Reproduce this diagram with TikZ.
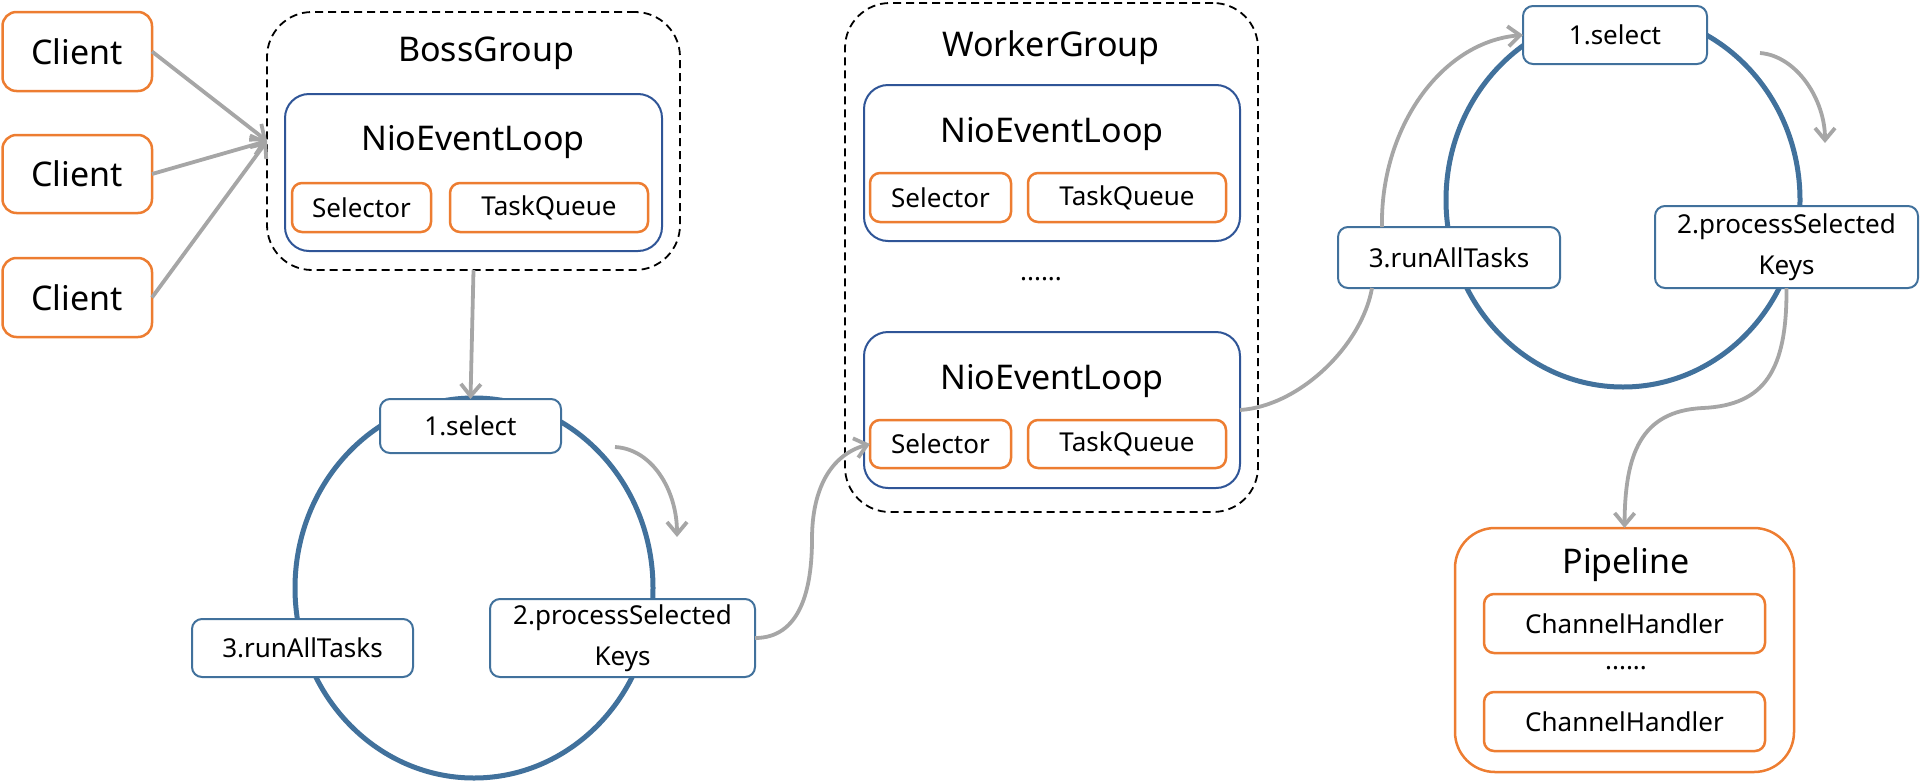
\documentclass[tikz,border=0pt]{standalone}
\usepackage{fontspec}
\setmainfont{Noto Sans}
\usetikzlibrary{arrows.meta}
\definecolor{orangec}{RGB}{237,125,49}
\definecolor{nelblue}{RGB}{47,85,151}
\definecolor{stepblue}{RGB}{65,113,156}
\definecolor{ringblue}{RGB}{65,113,156}
\definecolor{arrgray}{RGB}{166,166,166}
\newcommand{\bx}[7]{\node[#6, minimum width={#4-#2}, minimum height={#5-#3}, inner sep=0pt, outer sep=0pt] (#1) at ({(#2+#4)/2},{(#3+#5)/2}) {#7};}
\tikzset{
  bigtxt/.style={font=\fontsize{34}{40}\selectfont},
  smalltxt/.style={font=\fontsize{26}{41}\selectfont},
  clientbox/.style={draw=orangec, line width=2.5pt, rounded corners=14pt, fill=white, bigtxt},
  orbox/.style={draw=orangec, line width=2.5pt, rounded corners=10pt, fill=white, smalltxt},
  nelbox/.style={draw=nelblue, line width=2pt, rounded corners=24pt, fill=white},
  groupbox/.style={draw=black, line width=1.8pt, dash pattern=on 8pt off 5pt, rounded corners=45pt},
  pipebox/.style={draw=orangec, line width=2.5pt, rounded corners=40pt},
  stepbox/.style={draw=stepblue, line width=2pt, rounded corners=10pt, fill=white, smalltxt, align=center},
  ring/.style={draw=ringblue, line width=5pt},
  garr/.style={draw=arrgray, line width=3.8pt, -{Straight Barb[length=12pt,width=20pt,line width=3.8pt]}},
  gline/.style={draw=arrgray, line width=3.8pt},
  lbl/.style={inner sep=0pt}
}
\begin{document}
\begin{tikzpicture}[x=1pt,y=-1pt]
\useasboundingbox (0,0) rectangle (1921,782);
% clients
\bx{c1}{2.5}{12}{152}{91}{clientbox}{Client}
\bx{c2}{2.5}{135}{152}{213}{clientbox}{Client}
\bx{c3}{2.5}{258}{152}{337}{clientbox}{Client}
% boss group
\bx{boss}{267}{12}{680}{270}{groupbox}{}
\node[lbl,bigtxt] (bossT) at (486,53) {BossGroup};
\bx{bnel}{285}{94}{662}{251}{nelbox}{}
\node[lbl,bigtxt] (bnelT) at (473,142) {NioEventLoop};
\bx{bsel}{292}{183}{431}{232}{orbox}{Selector}
\bx{btq}{450}{183}{648}{232}{orbox}{TaskQueue}
% worker group
\bx{worker}{845}{3}{1258}{512}{groupbox}{}
\node[lbl,bigtxt] (workerT) at (1051,48) {WorkerGroup};
\bx{wnel1}{864}{85}{1240}{241}{nelbox}{}
\node[lbl,bigtxt] (wnel1T) at (1052,134) {NioEventLoop};
\bx{wsel1}{870}{173}{1011}{222}{orbox}{Selector}
\bx{wtq1}{1028}{173}{1226}{222}{orbox}{TaskQueue}
\node[lbl,smalltxt] (wdots) at (1041,279) {......};
\bx{wnel2}{864}{332}{1240}{488}{nelbox}{}
\node[lbl,bigtxt] (wnel2T) at (1052,381) {NioEventLoop};
\bx{wsel2}{870}{420}{1011}{468}{orbox}{Selector}
\bx{wtq2}{1028}{420}{1226}{468}{orbox}{TaskQueue}
% left ring
\draw[ring] (474,588) ellipse [x radius=179, y radius=190];
\bx{ls1}{380}{399}{561}{453}{stepbox}{1.select}
\bx{ls3}{192}{619}{413}{677}{stepbox}{3.runAllTasks}
\bx{ls2}{490}{599}{755}{677}{stepbox}{2.processSelected\\Keys}
% right ring
\draw[ring] (1623,200) ellipse [x radius=177, y radius=187];
\bx{rs1}{1523}{6}{1707}{64}{stepbox}{1.select}
\bx{rs3}{1338}{227}{1560}{288}{stepbox}{3.runAllTasks}
\bx{rs2}{1655}{206}{1918}{288}{stepbox}{2.processSelected\\Keys}
% pipeline
\bx{pipe}{1455}{528}{1794}{772}{pipebox}{}
\node[lbl,bigtxt] (pipeT) at (1626,565) {Pipeline};
\bx{ch1}{1484}{594}{1765}{653}{orbox}{ChannelHandler}
\node[lbl,smalltxt] (pdots) at (1626,668) {......};
\bx{ch2}{1484}{692}{1765}{751}{orbox}{ChannelHandler}
% connectors
\draw[garr] (c1.east) -- (boss.west);
\draw[garr] (c2.east) -- (boss.west);
\draw[garr] (c3.east) -- (boss.west);
\draw[garr] (boss.south) -- (ls1.north);
\coordinate (la1) at (615,447);
\coordinate (la2) at (677,537);
\draw[garr] (la1) .. controls (652,449) and (677,490) .. (la2);
\coordinate (ra1) at (1760,53);
\coordinate (ra2) at (1825,143);
\draw[garr] (ra1) .. controls (1797,56) and (1825,100) .. (ra2);
\coordinate (m1) at (812,539);
\draw[garr] (ls2.east) .. controls (800,638) and (812,590) .. (m1) .. controls (812,490) and (830,455) .. (wsel2.west);
\coordinate (r3b) at (1372,288);
\draw[gline] (wnel2.east) .. controls (1300,406) and (1362,345) .. (r3b);
\coordinate (r3t) at (1382,227);
\draw[garr] (r3t) .. controls (1380,130) and (1440,42) .. (rs1.west);
\coordinate (m2) at (1703,408);
\draw[garr] (rs2.south) .. controls (1787,370) and (1765,405) .. (m2) .. controls (1640,411) and (1625,455) .. (pipe.north);
\end{tikzpicture}
\end{document}
